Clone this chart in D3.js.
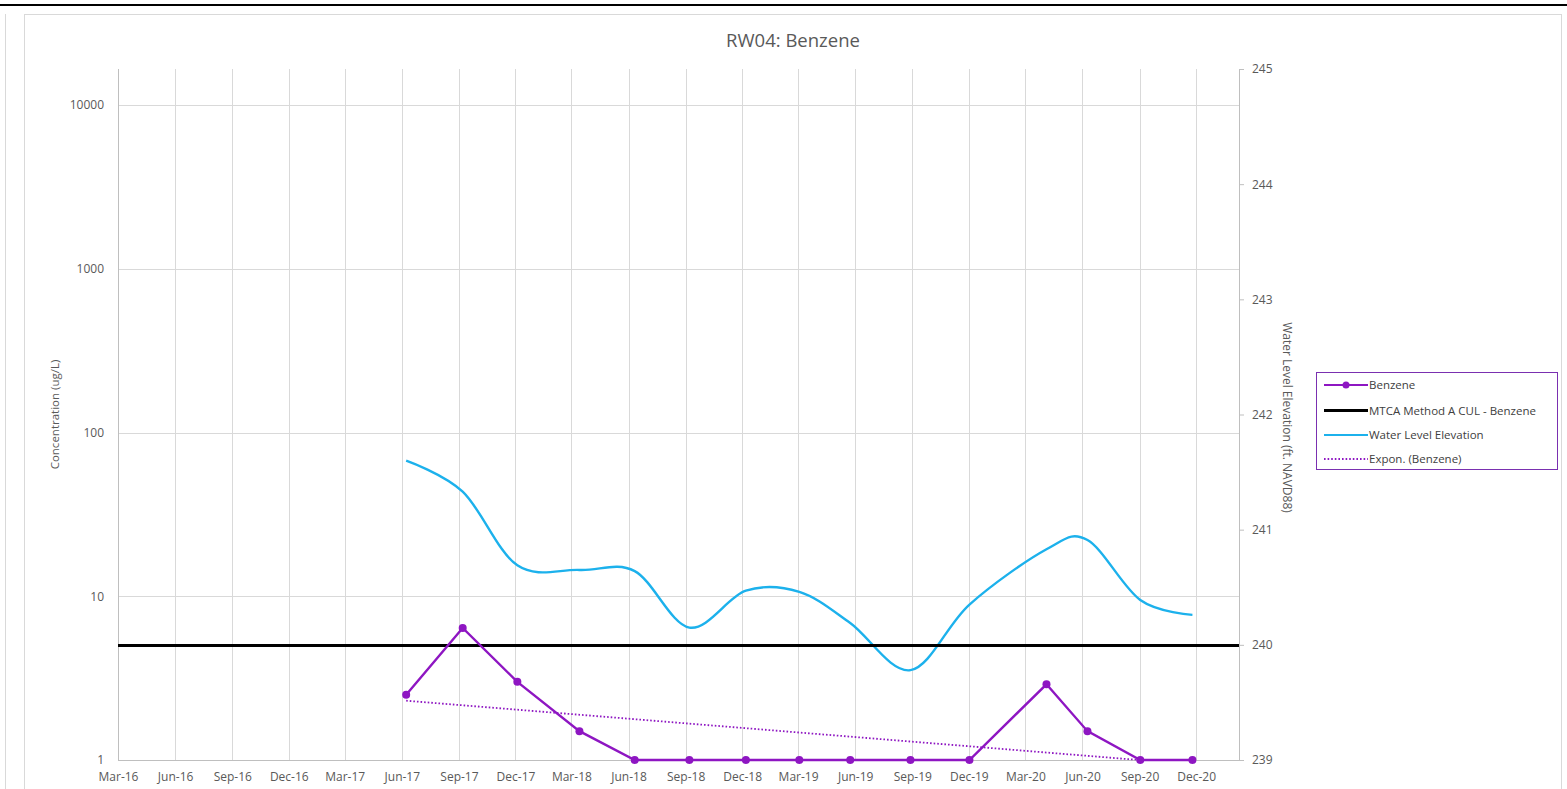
<!DOCTYPE html>
<html>
<head>
<meta charset="utf-8">
<script src="https://cdn.jsdelivr.net/npm/d3@7"></script>
<style>
  body { margin: 0; background: #fff; }
  svg { display: block; font-family: "Open Sans", "Noto Sans", sans-serif; }
</style>
</head>
<body>
<svg id="chart" width="1567" height="789"></svg>
<script>
// ---- data -------------------------------------------------------------
const sampleDates = ["2017-06-08", "2017-09-07", "2017-12-04", "2018-03-14", "2018-06-11",
  "2018-09-07", "2018-12-07", "2019-03-03", "2019-05-24", "2019-08-29", "2019-12-02",
  "2020-04-04", "2020-06-09", "2020-09-02", "2020-11-25"];
const benzene = [2.5, 6.4, 3.0, 1.5, 1, 1, 1, 1, 1, 1, 1, 2.9, 1.5, 1, 1];
const waterLevel = [241.60, 241.33, 240.69, 240.65, 240.64, 240.15, 240.47, 240.46, 240.19,
  239.78, 240.35, 240.83, 240.91, 240.39, 240.26];
const cleanupLevel = 5;
const monthLabels = ["Mar-16", "Jun-16", "Sep-16", "Dec-16", "Mar-17", "Jun-17", "Sep-17",
  "Dec-17", "Mar-18", "Jun-18", "Sep-18", "Dec-18", "Mar-19", "Jun-19", "Sep-19", "Dec-19",
  "Mar-20", "Jun-20", "Sep-20", "Dec-20"];
const concTicks = [1, 10, 100, 1000, 10000];
const elevTicks = [239, 240, 241, 242, 243, 244, 245];
const dateStart = "2016-03-01";
const dateEnd = "2021-02-08";

const title = "RW04: Benzene";
const seriesNames = ["Benzene", "MTCA Method A CUL - Benzene", "Water Level Elevation", "Expon. (Benzene)"];

// ---- layout -------------------------------------------------------------
const plot = { left: 118, right: 1239, top: 69, bottom: 760 };
const purple = "#8e16c2", blue = "#1cb1ec", grid = "#d9d9d9", axisGrey = "#bfbfbf", txt = "#595959";

const parseDay = d3.timeParse("%Y-%m-%d");
const parseMonth = d3.timeParse("%b-%y");
const dates = sampleDates.map(parseDay);
const tickDates = monthLabels.map(parseMonth);

const svg = d3.select("#chart");

// frame lines around the chart area
svg.append("rect").attr("width", 1567).attr("height", 789).attr("fill", "#fff");
svg.append("line").attr("x1", 0).attr("x2", 1567).attr("y1", 5).attr("y2", 5)
  .attr("stroke", "#000").attr("stroke-width", 2);
svg.append("line").attr("x1", 5.5).attr("x2", 5.5).attr("y1", 14).attr("y2", 789)
  .attr("stroke", grid).attr("stroke-width", 1);
svg.append("rect").attr("x", 24.5).attr("y", 14.5).attr("width", 1537).attr("height", 800)
  .attr("fill", "none").attr("stroke", grid).attr("stroke-width", 1);

// ---- scales -------------------------------------------------------------
const x = d3.scaleTime().domain([parseDay(dateStart), parseDay(dateEnd)]).range([plot.left, plot.right]);
const yConc = d3.scaleLog().domain([1, 10000]).range([plot.bottom, 105]);
const yElev = d3.scaleLinear().domain([239, 245]).range([plot.bottom, plot.top]);

// ---- gridlines ----------------------------------------------------------
const g = svg.append("g");
g.selectAll(".vgrid").data(tickDates).join("line")
  .attr("x1", d => Math.round(x(d)) + 0.5).attr("x2", d => Math.round(x(d)) + 0.5)
  .attr("y1", plot.top).attr("y2", plot.bottom)
  .attr("stroke", grid).attr("stroke-width", 1);
g.selectAll(".hgrid").data(concTicks.slice(1)).join("line")
  .attr("x1", plot.left).attr("x2", plot.right)
  .attr("y1", d => Math.round(yConc(d)) + 0.5).attr("y2", d => Math.round(yConc(d)) + 0.5)
  .attr("stroke", grid).attr("stroke-width", 1);

// axis lines
g.append("line").attr("x1", plot.left + 0.5).attr("x2", plot.left + 0.5)
  .attr("y1", plot.top).attr("y2", plot.bottom).attr("stroke", axisGrey);
g.append("line").attr("x1", plot.left).attr("x2", plot.right)
  .attr("y1", plot.bottom + 0.5).attr("y2", plot.bottom + 0.5).attr("stroke", axisGrey);

// ---- axes ---------------------------------------------------------------
const styleAxis = sel => {
  sel.select(".domain").remove();
  sel.selectAll("text").attr("fill", txt).style("font-size", "12px")
    .style("font-family", "'Open Sans', 'Noto Sans', sans-serif");
};

svg.append("g").attr("transform", `translate(${plot.left},0)`)
  .call(d3.axisLeft(yConc).tickValues(concTicks).tickFormat(d3.format("d")).tickSize(0).tickPadding(14))
  .call(styleAxis);

svg.append("g").attr("transform", `translate(0,${plot.bottom})`)
  .call(d3.axisBottom(x).tickValues(tickDates).tickFormat(d3.timeFormat("%b-%y")).tickSize(0).tickPadding(12))
  .call(styleAxis);

const rightAxis = svg.append("g").attr("transform", `translate(${plot.right},0)`)
  .call(d3.axisRight(yElev).tickValues(elevTicks).tickFormat(d3.format("d")).tickSize(5).tickPadding(8))
  .call(styleAxis);
rightAxis.selectAll(".tick line").attr("stroke", axisGrey);
svg.append("line").attr("x1", plot.right + 0.5).attr("x2", plot.right + 0.5)
  .attr("y1", plot.top).attr("y2", plot.bottom).attr("stroke", axisGrey);

// ---- axis titles & chart title ------------------------------------------
svg.append("text").attr("x", 793).attr("y", 47).attr("text-anchor", "middle")
  .attr("fill", txt).style("font-size", "18.5px").text(title);
svg.append("text").attr("transform", `translate(59,${(plot.top + plot.bottom) / 2}) rotate(-90)`)
  .attr("text-anchor", "middle").attr("fill", txt).style("font-size", "11.5px")
  .text("Concentration (ug/L)");
svg.append("text").attr("transform", `translate(1283,${(plot.top + plot.bottom) / 2 + 3}) rotate(90)`)
  .attr("text-anchor", "middle").attr("fill", txt).style("font-size", "12px")
  .text("Water Level Elevation (ft. NAVD88)");

// ---- series -------------------------------------------------------------
svg.append("clipPath").attr("id", "plotClip").append("rect")
  .attr("x", plot.left).attr("y", plot.top)
  .attr("width", plot.right - plot.left).attr("height", plot.bottom - plot.top + 0.5);

// exponential trend: least squares fit of log10(concentration) against time
const tDays = dates.map(d => (d - dates[0]) / 864e5);
const logC = benzene.map(v => Math.log10(v));
const tMean = d3.mean(tDays), lMean = d3.mean(logC);
const slope = d3.sum(tDays, (t, i) => (t - tMean) * (logC[i] - lMean)) /
  d3.sum(tDays, t => (t - tMean) * (t - tMean));
const intercept = lMean - slope * tMean;
const trendAt = t => Math.pow(10, intercept + slope * t);
// the fitted curve is a straight line on the log axis; it is clipped at the axis minimum
const tEnd = tDays[tDays.length - 1];
const tCross = -intercept / slope;
const trendPts = [[dates[0], trendAt(0)]];
if (tCross > 0 && tCross < tEnd) trendPts.push([new Date(+dates[0] + tCross * 864e5), 1]);
else trendPts.push([dates[dates.length - 1], trendAt(tEnd)]);

svg.append("path").attr("clip-path", "url(#plotClip)")
  .attr("d", d3.line().x(d => x(d[0])).y(d => yConc(d[1]))(trendPts))
  .attr("fill", "none").attr("stroke", purple).attr("stroke-width", 1.8)
  .attr("stroke-dasharray", "1.6,2");

// water level elevation, smoothed, right axis
svg.append("path")
  .attr("d", d3.line().x((d, i) => x(dates[i])).y(d => yElev(d)).curve(d3.curveCardinal.tension(0))(waterLevel))
  .attr("fill", "none").attr("stroke", blue).attr("stroke-width", 2.4);

// cleanup level
svg.append("line").attr("x1", plot.left).attr("x2", plot.right)
  .attr("y1", yConc(cleanupLevel)).attr("y2", yConc(cleanupLevel))
  .attr("stroke", "#000").attr("stroke-width", 3);

// benzene concentrations
svg.append("path")
  .attr("d", d3.line().x((d, i) => x(dates[i])).y(d => yConc(d))(benzene))
  .attr("fill", "none").attr("stroke", purple).attr("stroke-width", 2.4);
svg.selectAll(".pt").data(benzene).join("circle")
  .attr("cx", (d, i) => x(dates[i])).attr("cy", d => yConc(d)).attr("r", 4)
  .attr("fill", purple);

// ---- legend -------------------------------------------------------------
const lg = svg.append("g").attr("transform", "translate(1316,372)");
lg.append("rect").attr("x", 0.5).attr("y", 0.5).attr("width", 241).attr("height", 97)
  .attr("fill", "#fff").attr("stroke", "#7a30b0").attr("stroke-width", 1);
const rowY = [13, 38.5, 63, 87];
const sx1 = 8, sx2 = 52;
seriesNames.forEach((name, i) => {
  const row = lg.append("g").attr("transform", `translate(0,${rowY[i]})`);
  const ln = row.append("line").attr("x1", sx1).attr("x2", sx2).attr("y1", 0).attr("y2", 0);
  if (i === 0) {
    ln.attr("stroke", purple).attr("stroke-width", 2.2);
    row.append("circle").attr("cx", (sx1 + sx2) / 2).attr("cy", 0).attr("r", 3.5).attr("fill", purple);
  } else if (i === 1) {
    ln.attr("stroke", "#000").attr("stroke-width", 3);
  } else if (i === 2) {
    ln.attr("stroke", blue).attr("stroke-width", 2.2);
  } else {
    ln.attr("stroke", purple).attr("stroke-width", 1.8).attr("stroke-dasharray", "1.6,2");
  }
  row.append("text").attr("x", sx2 + 1).attr("y", 0).attr("dy", "0.35em")
    .attr("fill", "#404040").style("font-size", "11.5px").text(name);
});
</script>
</body>
</html>
